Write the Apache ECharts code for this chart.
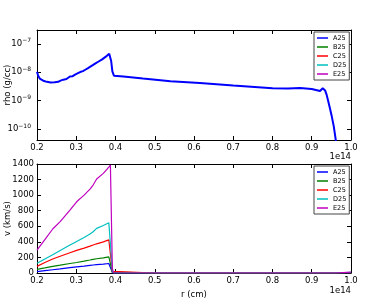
<!DOCTYPE html>
<html><head><meta charset="utf-8">
<script src="https://cdn.jsdelivr.net/npm/echarts@6/dist/echarts.min.js"></script>
<style>html,body{margin:0;padding:0;background:#fff}#c{width:391px;height:305px}</style>
</head><body><div id="c"></div>
<script>
// Data (r in units of 1e14 cm)
const seriesNames = ['A25','B25','C25','D25','E25'];
const colors = ['#0000ff','#008000','#ff0000','#00bfbf','#bf00bf'];
const xTicks = [0.2,0.3,0.4,0.5,0.6,0.7,0.8,0.9,1.0];
const vTicks = [0,200,400,600,800,1000,1200,1400];

const rhoR = [0.200,0.203,0.207,0.212,0.218,0.225,0.235,0.245,0.254,0.260,0.267,0.275,0.280,0.284,0.290,0.297,0.303,0.310,0.317,0.323,0.330,0.335,0.342,0.350,0.357,0.365,0.372,0.378,0.384,0.387,0.389,0.392,0.396,0.42,0.47,0.54,0.615,0.70,0.80,0.84,0.87,0.90,0.921,0.925,0.928,0.931,0.934,0.938,0.942,0.946,0.951,0.956,0.961,0.964];
const rhoA = [1.05e-8,7.6e-9,6.0e-9,5.2e-9,4.9e-9,4.6e-9,4.4e-9,4.5e-9,4.6e-9,5.1e-9,5.5e-9,5.8e-9,6.6e-9,7.1e-9,7.2e-9,8.3e-9,9.1e-9,1.02e-8,1.1e-8,1.23e-8,1.4e-8,1.58e-8,1.78e-8,2.1e-8,2.4e-8,2.8e-8,3.3e-8,3.8e-8,4.5e-8,4.7e-8,2.5e-8,1.07e-8,7.6e-9,7.1e-9,6.0e-9,4.8e-9,4.2e-9,3.4e-9,2.75e-9,2.7e-9,2.8e-9,2.57e-9,2.2e-9,2.4e-9,2.75e-9,2.7e-9,2.3e-9,1.6e-9,9.5e-10,5.6e-10,2.8e-10,1.26e-10,4.3e-11,1.6e-11];

const vR = [0.200,0.220,0.240,0.259,0.284,0.301,0.320,0.335,0.343,0.352,0.369,0.383,0.387,0.392,0.395,0.500,0.700,0.900,0.959,0.961,1.000];
const vA = [17,30,42,52,68,78,88,98,103,108,115,122,125,5,0,0,0,0,0,2,2];
const vB = [47,65,85,100,122,135,152,167,176,183,195,207,210,10,0,0,0,0,0,3,3];
const vC = [85,135,180,215,260,290,320,345,360,375,400,425,435,20,0,0,0,0,0,5,5];
const vD = [125,180,235,290,360,405,455,500,530,573,610,645,655,30,0,0,0,0,0,8,8];
const vE = [295,430,565,659,809,915,1000,1078,1130,1207,1280,1360,1386,60,0,0,0,0,0,12,12];

const vAll = [vA,vB,vC,vD,vE];
const zip = (xs, ys) => xs.map((x,i)=>[x,ys[i]]);

const FONT = 'DejaVu Sans';
const FS = 8.5;
const left = 37, width = 314;
const xmin = 0.2, xmax = 1.0;

function xAxisCfg(grid, pos, showLabels, name) {
  return {
    type:'value', gridIndex:grid, position:pos, min:xmin, max:xmax, interval:0.1,
    axisLine:{show:true, onZero:false, lineStyle:{color:'#000',width:1}},
    axisTick:{show:true, inside:true, length:4, lineStyle:{color:'#000'}},
    splitLine:{show:false},
    axisLabel:{show:showLabels, color:'#000', fontFamily:FONT, fontSize:FS, margin:3,
      formatter:v=>v.toFixed(1)},
    name: name || '', nameLocation:'middle', nameGap:17, nameMoveOverlap:false,
    nameTextStyle:{color:'#000', fontFamily:FONT, fontSize:FS}
  };
}

const logMin = 4.1e-11, logMax = 3.1e-7;
function logLabel(v){
  const e = Math.log10(v);
  if (Math.abs(e - Math.round(e)) > 1e-6) return '';
  return '{b|10}{s|' + String(Math.round(e)).replace('-', '\u2212') + '}';
}

const option = {
  animation:false,
  backgroundColor:'#fff',
  grid:[
    {left:left, top:30, width:width, height:110, show:false, containLabel:false, outerBoundsMode:'none'},
    {left:left, top:164, width:width, height:109, show:false, containLabel:false, outerBoundsMode:'none'}
  ],
  xAxis:[
    xAxisCfg(0,'bottom',true),
    xAxisCfg(0,'top',false),
    xAxisCfg(1,'bottom',true,'r (cm)'),
    xAxisCfg(1,'top',false)
  ],
  yAxis:[
    {type:'log', gridIndex:0, position:'left', min:logMin, max:logMax, logBase:10,
     axisLine:{show:true, lineStyle:{color:'#000'}},
     axisTick:{show:true, inside:true, length:4, lineStyle:{color:'#000'}},
     splitLine:{show:false},
     axisLabel:{color:'#000', fontFamily:FONT, fontSize:FS, margin:6, formatter:logLabel,
       rich:{b:{fontFamily:FONT, fontSize:FS, color:'#000'}, s:{fontFamily:FONT, fontSize:6, color:'#000', padding:[0,0,6,0]}}},
     name:'rho (g/cc)', nameLocation:'middle', nameGap:25, nameMoveOverlap:false,
     nameTextStyle:{color:'#000', fontFamily:FONT, fontSize:FS}},
    {type:'log', gridIndex:0, position:'right', min:logMin, max:logMax, logBase:10,
     axisLine:{show:true, lineStyle:{color:'#000'}},
     axisTick:{show:true, inside:true, length:4, lineStyle:{color:'#000'}},
     splitLine:{show:false}, axisLabel:{show:false}},
    {type:'value', gridIndex:1, position:'left', min:0, max:1400, interval:200,
     axisLine:{show:true, onZero:false, lineStyle:{color:'#000'}},
     axisTick:{show:true, inside:true, length:4, lineStyle:{color:'#000'}},
     splitLine:{show:false},
     axisLabel:{color:'#000', fontFamily:FONT, fontSize:FS, margin:3, formatter:v=>String(v)},
     name:'v (km/s)', nameLocation:'middle', nameGap:25, nameMoveOverlap:false,
     nameTextStyle:{color:'#000', fontFamily:FONT, fontSize:FS}},
    {type:'value', gridIndex:1, position:'right', min:0, max:1400, interval:200,
     axisLine:{show:true, onZero:false, lineStyle:{color:'#000'}},
     axisTick:{show:true, inside:true, length:4, lineStyle:{color:'#000'}},
     splitLine:{show:false}, axisLabel:{show:false}}
  ],
  legend:[0,1].map(i=>({
    data:seriesNames, orient:'vertical', left:314, top: i===0 ? 32 : 166,
    icon:'rect', itemWidth:11, itemHeight:1.5, itemGap:1,
    padding:[2,3,2,3], borderColor:'#444', borderWidth:1, backgroundColor:'#fff',
    textStyle:{color:'#000', fontFamily:FONT, fontSize:6.5, padding:[0,0,0,0], lineHeight:8},
    selectedMode:false
  })),
  graphic:[
    {type:'text', right:40, top:152, style:{text:'1e14', fill:'#000', font:FS+'px '+FONT}},
    {type:'text', right:40, top:286, style:{text:'1e14', fill:'#000', font:FS+'px '+FONT}}
  ],
  series:[
    {name:'A25', type:'line', xAxisIndex:0, yAxisIndex:0, data:zip(rhoR, rhoA), showSymbol:false,
     lineStyle:{color:colors[0], width:2}, itemStyle:{color:colors[0]}, clip:true, z:3}
  ].concat(seriesNames.map((n,i)=>({
     name:n, type:'line', xAxisIndex:2, yAxisIndex:2, data:zip(vR, vAll[i]), showSymbol:false,
     lineStyle:{color:colors[i], width:1.2}, itemStyle:{color:colors[i]}, clip:true, z:3+i
  })))
};
echarts.init(document.getElementById('c'), null, {renderer:'canvas'}).setOption(option);
</script></body></html>
